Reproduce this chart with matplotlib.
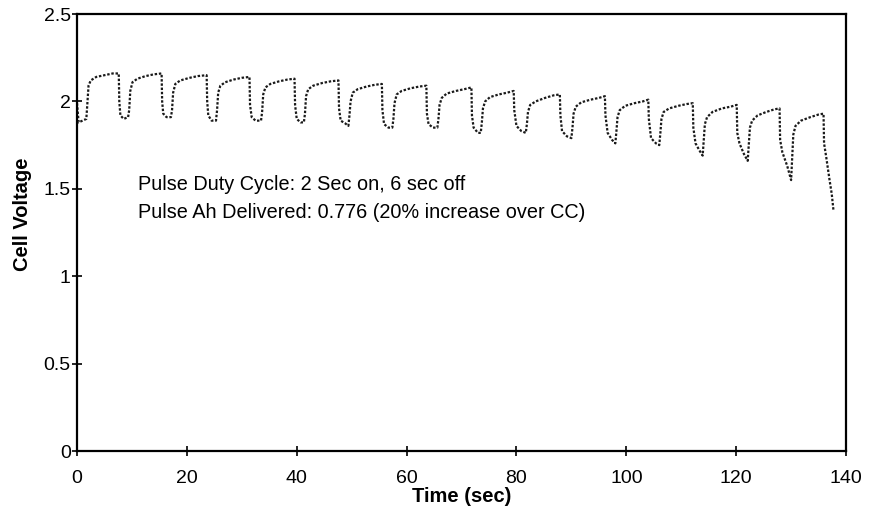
import matplotlib.pyplot as plt

plt.rcParams['font.family'] = ['Liberation Sans', 'DejaVu Sans']

# pulse discharge trace, one row per 8 s cycle (rise, plateau, drop, rest at load)
t = [0.0, 0.3, 1.0, 1.7,
     1.9, 2.1, 2.5, 3.5, 5.0, 6.5, 7.6, 7.7, 7.9, 8.5, 9.3,
     9.5, 9.7, 10.1, 11.0, 12.5, 14.0, 15.4, 15.5, 15.7, 16.3, 17.1,
     17.3, 17.5, 17.9, 18.8, 20.5, 22.0, 23.6, 23.7, 23.9, 24.5, 25.3,
     25.5, 25.7, 26.1, 27.0, 28.5, 30.0, 31.4, 31.5, 31.8, 32.5, 33.5,
     33.7, 33.9, 34.3, 35.2, 36.8, 38.3, 39.6, 39.7, 40.0, 40.7, 41.3,
     41.5, 41.7, 42.1, 43.0, 44.6, 46.2, 47.6, 47.7, 48.0, 48.8, 49.4,
     49.6, 49.8, 50.2, 51.1, 52.7, 54.2, 55.5, 55.6, 55.9, 56.7, 57.4,
     57.6, 57.8, 58.2, 59.1, 60.7, 62.3, 63.6, 63.7, 64.0, 64.8, 65.6,
     65.8, 66.0, 66.4, 67.3, 69.0, 70.5, 71.8, 71.9, 72.2, 73.0, 73.5,
     73.7, 73.9, 74.3, 75.2, 76.8, 78.3, 79.5, 79.6, 80.0, 80.9, 81.7,
     81.9, 82.1, 82.5, 83.5, 85.2, 86.8, 87.9, 88.0, 88.3, 89.2, 90.0,
     90.2, 90.4, 90.8, 91.8, 93.5, 95.0, 96.1, 96.2, 96.6, 97.4, 98.0,
     98.2, 98.4, 98.8, 99.8, 101.5, 103.0, 104.0, 104.1, 104.5, 105.4, 106.0,
     106.2, 106.4, 106.8, 107.8, 109.5, 111.0, 112.1, 112.2, 112.6, 113.3, 113.9,
     114.1, 114.3, 114.7, 115.7, 117.4, 119.0, 120.1, 120.2, 120.6, 121.4, 122.1,
     122.3, 122.5, 122.9, 123.9, 125.5, 127.0, 127.9, 128.0, 128.4, 129.3, 130.0,
     130.2, 130.4, 130.8, 131.8, 133.5, 135.0, 135.9, 136.0, 136.4, 137.0, 137.4, 137.7]

v = [1.99, 1.88, 1.89, 1.90,
     2.00, 2.09, 2.12, 2.14, 2.15, 2.16, 2.16, 2.00, 1.92, 1.90, 1.91,
     1.95, 2.06, 2.11, 2.13, 2.145, 2.155, 2.16, 2.00, 1.93, 1.91, 1.91,
     1.95, 2.05, 2.10, 2.12, 2.135, 2.145, 2.15, 2.00, 1.92, 1.89, 1.89,
     1.95, 2.05, 2.09, 2.11, 2.125, 2.135, 2.14, 1.98, 1.91, 1.89, 1.89,
     1.94, 2.04, 2.08, 2.10, 2.115, 2.125, 2.13, 1.98, 1.90, 1.88, 1.88,
     1.93, 2.03, 2.07, 2.09, 2.105, 2.115, 2.12, 1.96, 1.89, 1.875, 1.86,
     1.92, 2.00, 2.05, 2.07, 2.085, 2.095, 2.10, 1.95, 1.87, 1.85, 1.85,
     1.90, 1.99, 2.04, 2.06, 2.075, 2.085, 2.09, 1.93, 1.87, 1.85, 1.85,
     1.90, 1.98, 2.02, 2.045, 2.06, 2.07, 2.08, 1.92, 1.85, 1.82, 1.82,
     1.88, 1.96, 2.00, 2.025, 2.04, 2.05, 2.06, 1.95, 1.86, 1.83, 1.82,
     1.87, 1.94, 1.98, 2.00, 2.02, 2.035, 2.04, 1.92, 1.83, 1.80, 1.79,
     1.85, 1.93, 1.97, 1.995, 2.01, 2.02, 2.03, 1.92, 1.82, 1.78, 1.76,
     1.83, 1.91, 1.95, 1.975, 1.99, 2.00, 2.01, 1.90, 1.79, 1.76, 1.75,
     1.82, 1.90, 1.94, 1.96, 1.975, 1.985, 1.99, 1.85, 1.76, 1.72, 1.69,
     1.78, 1.87, 1.91, 1.94, 1.96, 1.97, 1.98, 1.82, 1.76, 1.70, 1.66,
     1.76, 1.85, 1.89, 1.92, 1.94, 1.955, 1.96, 1.78, 1.71, 1.63, 1.55,
     1.68, 1.81, 1.86, 1.89, 1.91, 1.925, 1.93, 1.76, 1.68, 1.55, 1.47, 1.38]

fig = plt.figure(figsize=(8.78, 5.08), dpi=100)
ax = fig.add_axes([0.0877, 0.1122, 0.8759, 0.8602])

ax.plot(t, v, color='#1a1a1a', lw=1.6, ls=(0, (1.1, 0.8)))

ax.set_xlim(0, 140)
ax.set_ylim(0, 2.5)
ax.set_xticks(range(0, 141, 20))
ax.set_yticks([0, 0.5, 1, 1.5, 2, 2.5])
ax.set_yticklabels(['0', '0.5', '1', '1.5', '2', '2.5'])
ax.tick_params(direction='inout', length=7, width=1.2, labelsize=14)
ax.tick_params(axis='x', pad=10)
ax.tick_params(axis='y', pad=1)

for s in ax.spines.values():
    s.set_linewidth(1.6)

ax.set_xlabel('Time (sec)', fontsize=14.5, fontweight='bold', labelpad=0)
ax.set_ylabel('Cell Voltage', fontsize=14.5, fontweight='bold')
ax.yaxis.set_label_coords(-0.058, 0.542)

ax.text(11.1, 1.445, 'Pulse Duty Cycle: 2 Sec on, 6 sec off\n'
        'Pulse Ah Delivered: 0.776 (20% increase over CC)',
        fontsize=14.3, va='center', ha='left', linespacing=1.55)

fig.savefig('out.png', dpi=100)
